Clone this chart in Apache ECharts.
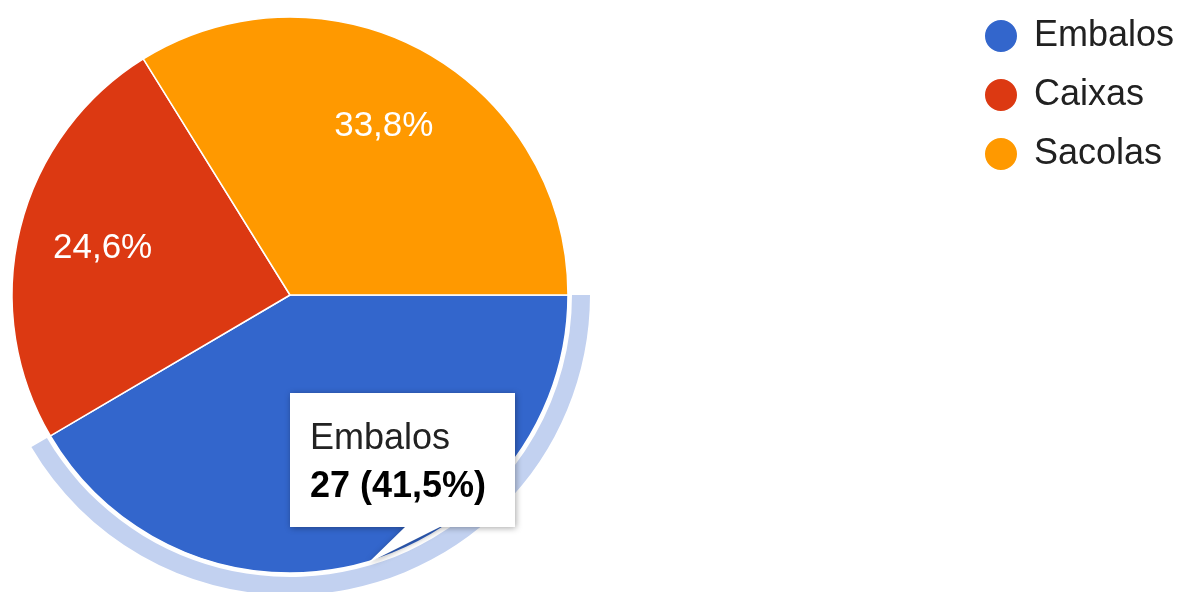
<!DOCTYPE html>
<html>
<head>
<meta charset="utf-8">
<script src="https://cdn.jsdelivr.net/npm/echarts@6/dist/echarts.min.js"></script>
<style>html,body{margin:0;padding:0;background:#fff}#c{width:1181px;height:592px}</style>
</head>
<body>
<div id="c"></div>
<script>
const categories = ['Embalos', 'Caixas', 'Sacolas'];
const values = [27, 16, 22];
const colors = ['#3366cc', '#dc3912', '#ff9900'];
const highlighted = 'Embalos';

const total = values.reduce((a, b) => a + b, 0);
const pct = v => (v / total * 100).toFixed(1).replace('.', ',') + '%';
const FONT = 'Arial, "Liberation Sans", sans-serif';
const CENTER = [290, 295];

const mainData = categories.map((c, i) => ({ name: c, value: values[i], itemStyle: { color: colors[i] } }));
const ringData = categories.map((c, i) => ({
  name: c, value: values[i],
  itemStyle: { color: c === highlighted ? '#c2d1f0' : 'rgba(0,0,0,0)' }
}));
const labelData = categories.map((c, i) => ({ name: c, value: values[i] }));
const legendData = categories.map((c, i) => ({ name: c, itemStyle: { color: colors[i] } }));

const hi = categories.indexOf(highlighted);

const chart = echarts.init(document.getElementById('c'), null, { renderer: 'canvas' });
chart.setOption({
  animation: false,
  color: colors,
  legend: {
    orient: 'vertical',
    left: 978,
    top: 13,
    icon: 'circle',
    itemWidth: 34,
    itemHeight: 34,
    itemGap: 23,
    selectedMode: false,
    data: legendData,
    textStyle: { fontFamily: FONT, fontSize: 36, color: '#212121', lineHeight: 36, padding: [0, 0, 0, 11] }
  },
  series: [
    {
      type: 'pie', name: 'main', silent: true, z: 2,
      center: CENTER, radius: [0, 278],
      startAngle: 0, clockwise: true,
      itemStyle: { borderColor: '#ffffff', borderWidth: 1.5 },
      label: { show: false }, labelLine: { show: false },
      data: mainData
    },
    {
      type: 'pie', name: 'ring', silent: true, z: 1,
      center: CENTER, radius: [282, 300],
      startAngle: 0, clockwise: true,
      label: { show: false }, labelLine: { show: false },
      data: ringData
    },
    {
      type: 'pie', name: 'labels', silent: true, z: 3,
      center: CENTER, radius: [102, 278],
      startAngle: 0, clockwise: true,
      itemStyle: { color: 'rgba(0,0,0,0)', borderWidth: 0 },
      label: {
        show: true, position: 'inside',
        formatter: p => pct(p.value),
        color: '#ffffff', fontFamily: FONT, fontSize: 35
      },
      labelLine: { show: false },
      data: labelData
    }
  ],
  graphic: [
    {
      type: 'polygon', z: 200, zlevel: 1,
      shape: { points: [[290, 393], [515, 393], [515, 527], [440, 527], [368, 563], [405, 527], [290, 527]] },
      style: { fill: '#ffffff', shadowBlur: 6, shadowColor: 'rgba(0,0,0,0.35)', shadowOffsetX: 1, shadowOffsetY: 1 }
    },
    {
      type: 'text', z: 201, zlevel: 1, left: 310, top: 421,
      style: { text: categories[hi], font: '36px ' + FONT, fill: '#222222' }
    },
    {
      type: 'text', z: 201, zlevel: 1, left: 310, top: 469,
      style: { text: values[hi] + ' (' + pct(values[hi]) + ')', font: 'bold 36px ' + FONT, fill: '#000000' }
    }
  ]
});
</script>
</body>
</html>
